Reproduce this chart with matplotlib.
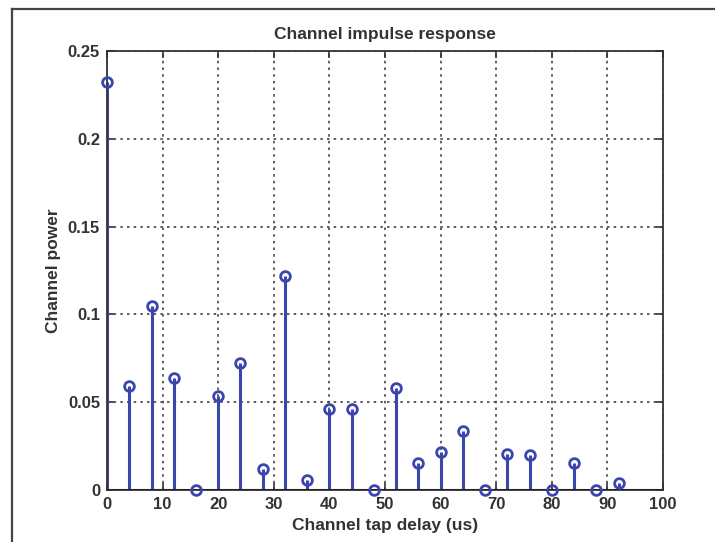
import matplotlib.pyplot as plt
from matplotlib.lines import Line2D

# tap delays (us) and channel power per tap
tap_delay = [0, 4, 8, 12, 16, 20, 24, 28, 32, 36, 40, 44,
             48, 52, 56, 60, 64, 68, 72, 76, 80, 84, 88, 92]
tap_power = [0.2325, 0.059, 0.105, 0.064, 0.0, 0.0535, 0.0725, 0.0118,
             0.122, 0.0057, 0.046, 0.046, 0.0, 0.058, 0.0152, 0.0218,
             0.0334, 0.0, 0.0205, 0.0199, 0.0, 0.0152, 0.0, 0.0038]

xticks = [0, 10, 20, 30, 40, 50, 60, 70, 80, 90, 100]
yticks = [0, 0.05, 0.1, 0.15, 0.2, 0.25]
ytick_labels = ['0', '0.05', '0.1', '0.15', '0.2', '0.25']

plt.rcParams['font.family'] = ['Liberation Sans', 'DejaVu Sans']
blue = '#3a46ae'
txt = '#333333'

fig = plt.figure(figsize=(7.15, 5.42), dpi=100)
ax = fig.add_axes([0.1497, 0.0959, 0.7776, 0.81])

markerline, stemlines, baseline = ax.stem(tap_delay, tap_power, basefmt=' ')
plt.setp(stemlines, color=blue, linewidth=2.2)
plt.setp(markerline, marker='o', markersize=7, markerfacecolor='none',
         markeredgecolor=blue, markeredgewidth=2, clip_on=False, zorder=5)
ax.axhline(0, color='#222222', linewidth=2.2, zorder=4)

ax.set_xlim(0, 100)
ax.set_ylim(0, 0.25)
ax.set_xticks(xticks)
ax.set_yticks(yticks)
ax.set_yticklabels(ytick_labels)
ax.grid(True, color='#444444', linestyle=(0, (1.5, 2.5)), linewidth=1.2)
ax.tick_params(direction='in', top=True, right=True, length=5, width=1.2,
               colors='#333333', labelsize=12, labelcolor=txt, pad=5)
for lab in ax.get_xticklabels() + ax.get_yticklabels():
    lab.set_fontweight('bold')
for s in ax.spines.values():
    s.set_color('#333333')
    s.set_linewidth(1.3)

ax.set_title('Channel impulse response', fontsize=12.5, fontweight='bold',
             color=txt, pad=9)
ax.set_xlabel('Channel tap delay (us)', fontsize=12.5, fontweight='bold',
              color=txt, labelpad=4)
ax.set_ylabel('Channel power', fontsize=12.5, fontweight='bold',
              color=txt, labelpad=5)

# frame of the screenshot crop
fig.add_artist(Line2D([12 / 715, 1], [1 - 9 / 542, 1 - 9 / 542],
                      color='#444444', linewidth=1.6))
fig.add_artist(Line2D([12 / 715, 12 / 715], [0, 1 - 9 / 542],
                      color='#444444', linewidth=1.6))

fig.savefig('out.png', dpi=100)
